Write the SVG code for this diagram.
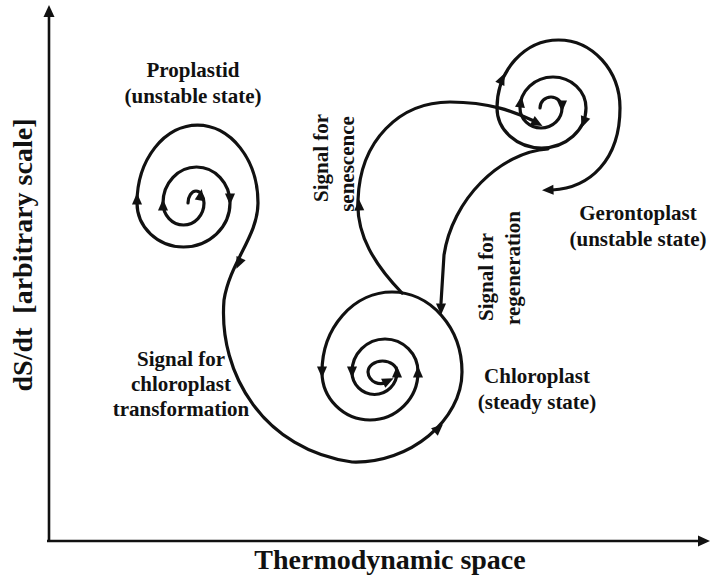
<svg xmlns="http://www.w3.org/2000/svg" xmlns:xlink="http://www.w3.org/1999/xlink" width="711" height="575" viewBox="0 0 711 575">
<style>
.ln{fill:none;stroke:#111;stroke-width:3.2;stroke-linecap:round;stroke-linejoin:round}
.ax{fill:none;stroke:#111;stroke-width:2.6}
.t{font-family:"Liberation Serif","Times New Roman",serif;font-weight:bold;font-size:21px;fill:#111;text-anchor:middle}
.big{font-size:28px}
</style>
<defs>
<path id="ah" d="M4,0 L-7.5,-5 L-7.5,5 Z" fill="#111"/>
<path id="axh" d="M0,0 L-12,-5.5 L-12,5.5 Z" fill="#111"/>
</defs>
<rect width="711" height="575" fill="#fff"/>
<g id="axes">
<path class="ax" d="M49,541 L49,14"/>
<path class="ax" d="M47,541 L700,541"/>
<use xlink:href="#axh" transform="translate(49,5) rotate(-90)"/>
<use xlink:href="#axh" transform="translate(710,541)"/>
<text class="t big" transform="translate(32,255) rotate(-90)" xml:space="preserve">dS/dt  [arbitrary scale]</text>
<text class="t big" x="390" y="569">Thermodynamic space</text>
</g>
<g id="connectors">
<path id="main" class="ln" d="M188,203 A8,12 0 0 1 204,203 A20.5,22 0 0 1 163,203 A33.5,36 0 0 1 230,203 A46.5,44 0 0 1 137,203 A60.5,78 0 0 1 258,203 C258,236 230,262 224,300 C218,375 265,450 352,462 C410,464 462,420 462,372 A70,80 0 0 0 322,372 A48,48 0 0 0 418,372 A33,33 0 0 0 352,372 A22.5,22.5 0 0 0 397,372 A14.5,11 0 0 0 368,372 A12.5,12.5 0 0 0 388,381"/>
<path id="geronto" class="ln" d="M540,108 A11,11 0 0 1 562,108 A21,20 0 0 1 520,108 A33,31 0 0 1 586,108 A44.5,40 0 0 1 497,108 A61.5,68 0 0 1 620,108 C620,160 590,188 552,190"/>
<path id="senescence" class="ln" d="M402,293 C375,265 356,235 358,200 C360,140 400,102 450,102 C490,102 515,112 534,121"/>
<path id="regeneration" class="ln" d="M548,149 C500,152 452,200 444,255 L441,303"/>
<g id="arrowheads">
<use xlink:href="#ah" transform="translate(137,197) rotate(-90)"/>
<use xlink:href="#ah" transform="translate(163,203) rotate(-90)"/>
<use xlink:href="#ah" transform="translate(230,201) rotate(90)"/>
<use xlink:href="#ah" transform="translate(201,193) rotate(-80)"/>
<use xlink:href="#ah" transform="translate(238,265) rotate(114)"/>
<use xlink:href="#ah" transform="translate(440,427) rotate(-42)"/>
<use xlink:href="#ah" transform="translate(322,374) rotate(90)"/>
<use xlink:href="#ah" transform="translate(352,374) rotate(90)"/>
<use xlink:href="#ah" transform="translate(418,370) rotate(-90)"/>
<use xlink:href="#ah" transform="translate(397,370) rotate(-90)"/>
<use xlink:href="#ah" transform="translate(390,380) rotate(-25)"/>
<use xlink:href="#ah" transform="translate(359,203) rotate(-92)"/>
<use xlink:href="#ah" transform="translate(539,124) rotate(28)"/>
<use xlink:href="#ah" transform="translate(441,311) rotate(90)"/>
<use xlink:href="#ah" transform="translate(503,77) rotate(-65)"/>
<use xlink:href="#ah" transform="translate(521,100) rotate(-82)"/>
<use xlink:href="#ah" transform="translate(583,124) rotate(110)"/>
<use xlink:href="#ah" transform="translate(562,108) rotate(90)"/>
<use xlink:href="#ah" transform="translate(546,190) rotate(178)"/>
</g>
</g>
<g id="proplastid">
<text class="t" x="193" y="77">Proplastid</text>
<text class="t" x="193" y="103">(unstable state)</text>
</g>
<g id="gerontoplast">
<text class="t" x="638" y="220">Gerontoplast</text>
<text class="t" x="638" y="246">(unstable state)</text>
</g>
<g id="chloroplast">
<text class="t" x="537" y="383">Chloroplast</text>
<text class="t" x="537" y="409">(steady state)</text>
</g>
<g id="signal-transformation">
<text class="t" x="181" y="366">Signal for</text>
<text class="t" x="181" y="391">chloroplast</text>
<text class="t" x="181" y="416">transformation</text>
</g>
<g id="signal-senescence">
<text class="t" transform="translate(328,158) rotate(-90)">Signal for</text>
<text class="t" transform="translate(354,164) rotate(-90)">senescence</text>
</g>
<g id="signal-regeneration">
<text class="t" transform="translate(493,277) rotate(-90)">Signal for</text>
<text class="t" transform="translate(520,268) rotate(-90)">regeneration</text>
</g>
</svg>
